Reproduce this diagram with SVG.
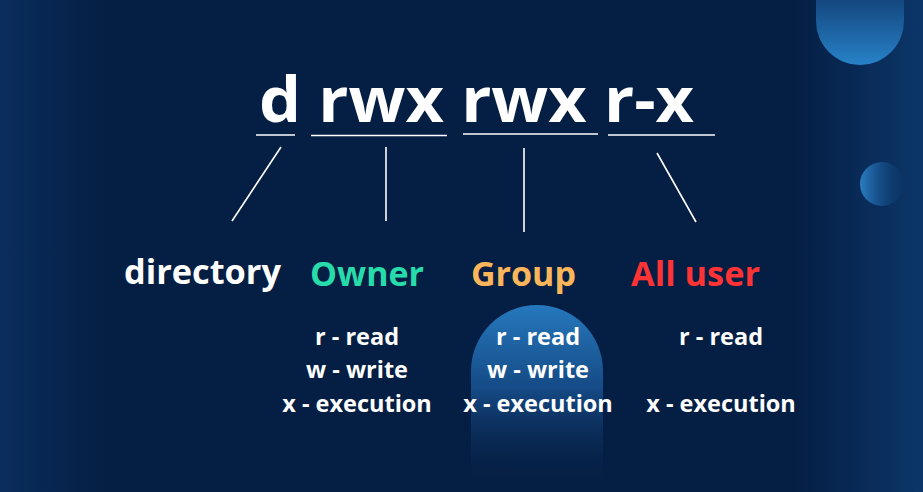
<svg xmlns="http://www.w3.org/2000/svg" width="923" height="492" viewBox="0 0 923 492">
  <defs>
    <linearGradient id="bgL" x1="0" y1="0" x2="1" y2="0">
      <stop offset="0" stop-color="#0b3468" stop-opacity="0.7"/>
      <stop offset="1" stop-color="#0b3468" stop-opacity="0"/>
    </linearGradient>
    <linearGradient id="bgR" x1="1" y1="0" x2="0" y2="0">
      <stop offset="0" stop-color="#0d3a70" stop-opacity="0.85"/>
      <stop offset="1" stop-color="#0d3a70" stop-opacity="0"/>
    </linearGradient>
    <linearGradient id="pillG" x1="0" y1="0" x2="0" y2="1">
      <stop offset="0" stop-color="#2678bd"/>
      <stop offset="0.45" stop-color="#154a85"/>
      <stop offset="1" stop-color="#061f44" stop-opacity="0"/>
    </linearGradient>
    <linearGradient id="topG" x1="0" y1="0" x2="0" y2="1">
      <stop offset="0" stop-color="#113e74"/>
      <stop offset="1" stop-color="#2782c8"/>
    </linearGradient>
    <linearGradient id="circG" x1="0" y1="0" x2="1" y2="0">
      <stop offset="0" stop-color="#2a7ec4"/>
      <stop offset="1" stop-color="#0d3a70" stop-opacity="0.2"/>
    </linearGradient>
    <style>
      .t{font-family:"Open Sans","Noto Sans","Liberation Sans",sans-serif;font-weight:700}
      .big{font-size:63px;fill:#ffffff}
      .lab{font-size:34px}
      .perm{font-size:23.5px;fill:#ffffff;text-anchor:middle}
      .ln{stroke:#ffffff;stroke-width:1.6;fill:none}
    </style>
  </defs>
  <rect width="923" height="492" fill="#051e43"/>
  <rect x="0" y="0" width="110" height="492" fill="url(#bgL)"/>
  <rect x="793" y="0" width="130" height="492" fill="url(#bgR)"/>
  <path d="M816,-10 L904,-10 L904,21 A44,44 0 0 1 816,21 Z" fill="url(#topG)"/>
  <circle cx="882" cy="184" r="22" fill="url(#circG)"/>
  <path d="M471,492 L471,371 A66,66 0 0 1 603,371 L603,492 Z" fill="url(#pillG)"/>

  <g id="title">
    <text class="t big" x="259" y="122" textLength="435" lengthAdjust="spacingAndGlyphs">d rwx rwx r-x</text>
  </g>

  <g id="connectors">
    <line class="ln" x1="256" y1="135" x2="295" y2="135"/>
    <line class="ln" x1="311" y1="135.5" x2="447" y2="135.5"/>
    <line class="ln" x1="463" y1="134" x2="598" y2="134"/>
    <line class="ln" x1="608" y1="135" x2="715" y2="135"/>
    <line class="ln" x1="281" y1="147" x2="232" y2="221"/>
    <line class="ln" x1="386" y1="147" x2="386" y2="221"/>
    <line class="ln" x1="524" y1="148" x2="524" y2="232"/>
    <line class="ln" x1="657" y1="153" x2="696" y2="222"/>
  </g>

  <g id="directory">
    <text class="t lab" x="124" y="284" fill="#ffffff" textLength="157" lengthAdjust="spacingAndGlyphs">directory</text>
  </g>
  <g id="owner">
    <text class="t lab" x="310" y="286" fill="#27dcaa" textLength="114" lengthAdjust="spacingAndGlyphs">Owner</text>
    <text class="t perm" x="357" y="345">r - read</text>
    <text class="t perm" x="357" y="378">w - write</text>
    <text class="t perm" x="357" y="412">x - execution</text>
  </g>
  <g id="group">
    <text class="t lab" x="471" y="286" fill="#fbb55a" textLength="105" lengthAdjust="spacingAndGlyphs">Group</text>
    <text class="t perm" x="538" y="345">r - read</text>
    <text class="t perm" x="538" y="378">w - write</text>
    <text class="t perm" x="538" y="412">x - execution</text>
  </g>
  <g id="alluser">
    <text class="t lab" x="631" y="286" fill="#fd3336" textLength="129" lengthAdjust="spacingAndGlyphs">All user</text>
    <text class="t perm" x="721" y="345">r - read</text>
    <text class="t perm" x="721" y="412">x - execution</text>
  </g>
</svg>
